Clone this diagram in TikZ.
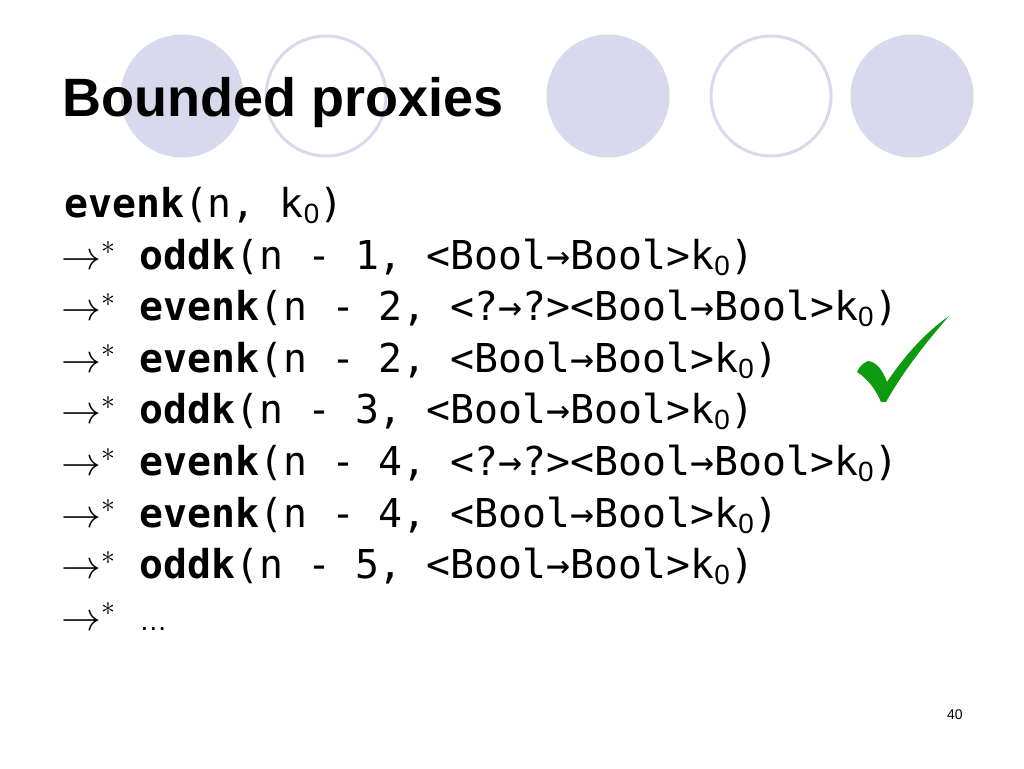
\RequirePackage{fix-cm}
\documentclass[tikz,border=0pt]{standalone}
\usepackage{fontspec}
\setmainfont{Liberation Sans}
\setmonofont{DejaVu Sans Mono}
\usepackage{tikz}
\usetikzlibrary{positioning}

\definecolor{dotfill}{RGB}{217,217,237}
\definecolor{tickgreen}{RGB}{14,154,14}

\newcommand{\fn}[1]{\textbf{#1}}
\newcommand{\kzero}{k\textsubscript{\rmfamily 0}}
\newcommand{\reduces}{$\rightarrow^{*}$\ }

\begin{document}
\begin{tikzpicture}
      [x=1pt, y=-1pt,
       dot/.style={circle,fill=dotfill,inner sep=0pt,minimum size=123pt},
       ring/.style={circle,draw=dotfill,line width=3pt,inner sep=0pt,minimum size=120pt},
       title/.style={anchor=base west,inner sep=0pt,font=\fontsize{54}{60}\selectfont\bfseries},
       code/.style={anchor=base west,inner sep=0pt,font=\fontsize{39.8}{47}\selectfont\ttfamily},
       pagenum/.style={anchor=base west,inner sep=0pt,font=\fontsize{14}{16}\selectfont}]
      \useasboundingbox (0,0) rectangle (1024,768);

      \node (C1) at (182,96) [dot] {};
      \node (C2) at (326,96) [ring] {};
      \node (C3) at (608,96) [dot] {};
      \node (C4) at (771,96) [ring] {};
      \node (C5) at (912,96) [dot] {};

      \node (T) at (62,116) [title] {Bounded proxies};

      \node (L1) at (64,217.5) [code] {\fn{evenk}(n, \kzero)};
      \node (L2) at (61,269.1) [code] {\reduces\fn{oddk}(n - 1, <Bool→Bool>\kzero)};
      \node (L3) at (61,320.7) [code] {\reduces\fn{evenk}(n - 2, <?→?><Bool→Bool>\kzero)};
      \node (L4) at (61,372.3) [code] {\reduces\fn{evenk}(n - 2, <Bool→Bool>\kzero)};
      \node (L5) at (61,423.9) [code] {\reduces\fn{oddk}(n - 3, <Bool→Bool>\kzero)};
      \node (L6) at (61,475.5) [code] {\reduces\fn{evenk}(n - 4, <?→?><Bool→Bool>\kzero)};
      \node (L7) at (61,527.1) [code] {\reduces\fn{evenk}(n - 4, <Bool→Bool>\kzero)};
      \node (L8) at (61,578.7) [code] {\reduces\fn{oddk}(n - 5, <Bool→Bool>\kzero)};
      \node (L9) at (61,630.3) [code] {\reduces{\rmfamily\fontsize{28}{30}\selectfont …}};

      % tick
      \fill[tickgreen] (857,372) .. controls (859,367) and (863,363) .. (868,361)
        .. controls (877,362) and (883,371) .. (887,382)
        .. controls (905,355) and (925,333) .. (949,316)
        .. controls (930,338) and (905,368) .. (886,402)
        -- (881,402) .. controls (876,390) and (868,379) .. cycle;

      \node (P) at (947,719) [pagenum] {40};
\end{tikzpicture}
\end{document}
